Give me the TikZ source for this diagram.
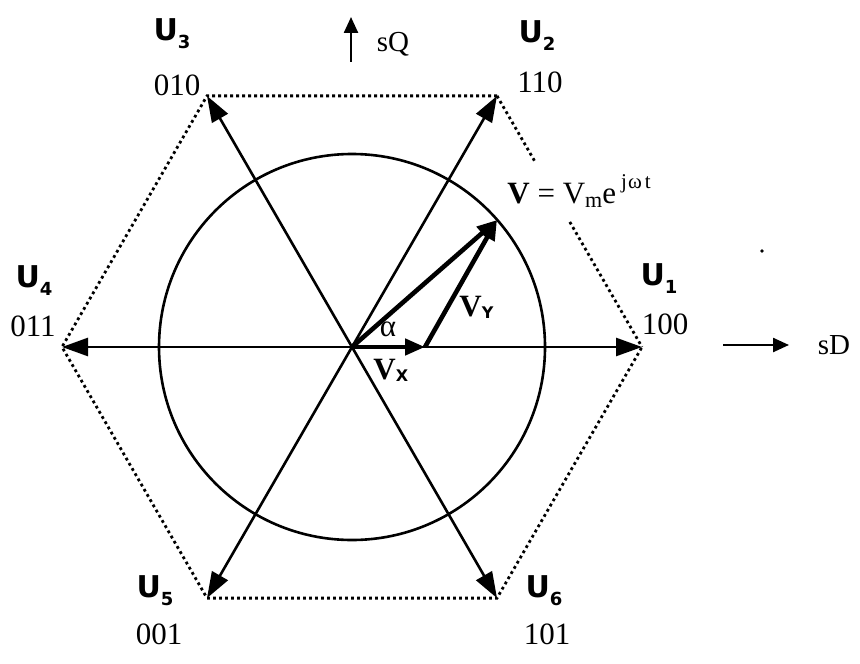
\documentclass[tikz,border=0pt]{standalone}
\usepackage{fontspec}
\setmainfont{Liberation Serif}
\newfontfamily\usans{DejaVu Sans}
\usetikzlibrary{arrows.meta,calc}
\tikzset{
  uarrow/.style={line width=1.3pt,-{Triangle[length=13pt,width=9pt]}},
  varrow/.style={line width=2.3pt,-{Triangle[length=10pt,width=8pt]}},
  axarrow/.style={line width=1.2pt,-{Triangle[length=8pt,width=7pt]}},
  hexline/.style={line width=1.4pt,dash pattern=on 1.4pt off 1.6pt},
  num/.style={font=\fontsize{15.5}{15.5}\selectfont, inner sep=0pt},
  ulab/.style={font=\usans\bfseries\fontsize{15}{15}\selectfont, inner sep=0pt},
  axlab/.style={font=\fontsize{14.5}{14.5}\selectfont, inner sep=0pt}
}
\newcommand{\Ulab}[1]{U\raisebox{-4pt}{\fontsize{9}{9}\selectfont #1}}
\begin{document}
\begin{tikzpicture}[x=0.5pt,y=-0.5pt]
\useasboundingbox (0,0) rectangle (860,663);
% centre and hexagon vertices
\coordinate (C) at (352,347);
\coordinate (U1) at (642,347);
\coordinate (U2) at (497,95.9);
\coordinate (U3) at (207,95.9);
\coordinate (U4) at (62,347);
\coordinate (U5) at (207,598.1);
\coordinate (U6) at (497,598.1);
\coordinate (G1) at ($(U2)!0.266!(U1)$);
\coordinate (G2) at ($(U2)!0.502!(U1)$);
% dotted hexagon
\draw[hexline] (U2) -- (U3) -- (U4) -- (U5) -- (U6) -- (U1);
\draw[hexline] (U2) -- (G1);
\draw[hexline] (G2) -- (U1);
% circle
\draw[line width=1.3pt] (C) circle[radius=96.5pt];
% space vectors
\foreach \v in {U1,U2,U3,U4,U5,U6} \draw[uarrow] (C) -- (\v);
% V decomposition
\coordinate (VX) at (425,347);
\coordinate (VT) at (497,220);
\draw[varrow] (C) -- (VX);
\draw[varrow] (VX) -- (VT);
\draw[varrow] (C) -- (VT);
% labels of vertices
\node[ulab] (l3) at (172,34) {\Ulab{3}};
\node[num] (n3) at (177,85) {010};
\node[ulab] (l2) at (537,36) {\Ulab{2}};
\node[num] (n2) at (540,82) {110};
\node[ulab] (l1) at (659,279) {\Ulab{1}};
\node[num] (n1) at (665,324) {100};
\node[ulab] (l4) at (34,281) {\Ulab{4}};
\node[num] (n4) at (33,326) {011};
\node[ulab] (l5) at (155,591) {\Ulab{5}};
\node[num] (n5) at (159,634) {001};
\node[ulab] (l6) at (544,591) {\Ulab{6}};
\node[num] (n6) at (547,634) {101};
% axes
\coordinate (sQa) at (351,62);
\coordinate (sQb) at (351,17);
\draw[axarrow] (sQa) -- (sQb);
\node[axlab] (sQ) at (393,44) {sQ};
\coordinate (sDa) at (723,345);
\coordinate (sDb) at (789,345);
\draw[axarrow] (sDa) -- (sDb);
\node[axlab] (sD) at (834,345) {sD};
% formula and vector labels
\node[num, anchor=base west] (form) at (507,203)
  {\textbf{V} = V\raisebox{-2pt}{\fontsize{11}{11}\selectfont m}e\,\raisebox{7pt}{\fontsize{10.5}{10.5}\selectfont j\kern0.5pt ω\kern1.5pt t}};
\node[num] (alpha) at (388,329) {α};
\node[num, anchor=base west] (vx) at (373,379) {\textbf{V}\raisebox{-1pt}{\usans\bfseries\fontsize{8}{8}\selectfont X}};
\node[num, anchor=base west] (vy) at (459,316) {\textbf{V}\raisebox{-1pt}{\usans\bfseries\fontsize{8}{8}\selectfont Y}};
% stray speck
\fill (762,251) circle[radius=0.9pt];
\end{tikzpicture}
\end{document}
